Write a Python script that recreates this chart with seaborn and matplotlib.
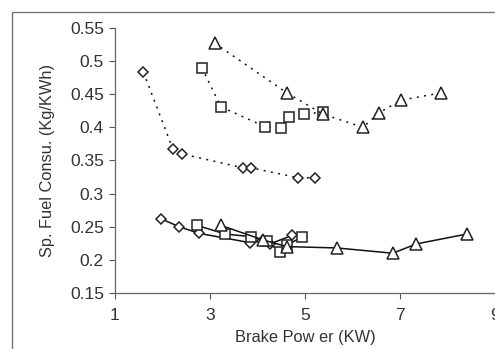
import matplotlib
matplotlib.use("Agg")
import matplotlib.pyplot as plt
import seaborn as sns
from matplotlib.patches import Rectangle

# upper (dotted) series
dia_hi_x = [1.6, 2.22, 2.41, 3.69, 3.86, 4.85, 5.21]
dia_hi_y = [0.483, 0.367, 0.360, 0.339, 0.339, 0.324, 0.324]
sq_hi_x = [2.83, 3.23, 4.16, 4.49, 4.66, 4.98, 5.38]
sq_hi_y = [0.490, 0.431, 0.401, 0.399, 0.416, 0.420, 0.423]
tri_hi_x = [3.10, 4.62, 5.38, 6.22, 6.56, 7.02, 7.86]
tri_hi_y = [0.527, 0.452, 0.420, 0.400, 0.422, 0.441, 0.452]

# lower (solid) series
dia_lo_x = [1.97, 2.35, 2.77, 3.84, 4.10, 4.26, 4.73]
dia_lo_y = [0.262, 0.250, 0.240, 0.226, 0.229, 0.224, 0.237]
sq_lo_x = [2.73, 3.32, 3.86, 4.20, 4.47, 4.62, 4.94]
sq_lo_y = [0.252, 0.239, 0.235, 0.228, 0.212, 0.222, 0.235]
tri_lo_x = [3.23, 4.12, 4.62, 5.67, 6.85, 7.34, 8.41]
tri_lo_y = [0.252, 0.230, 0.220, 0.218, 0.210, 0.224, 0.239]

x_ticks = [1, 3, 5, 7, 9]
y_ticks = [0.15, 0.2, 0.25, 0.3, 0.35, 0.4, 0.45, 0.5, 0.55]
y_tick_labels = ["0.15", "0.2", "0.25", "0.3", "0.35", "0.4", "0.45", "0.5", "0.55"]

sns.set_style("white")
plt.rcParams['font.family'] = ['Liberation Sans', 'DejaVu Sans']

fig = plt.figure(figsize=(4.95, 3.49), dpi=100)
ax = fig.add_axes([0.2323, 0.1605, 0.7677, 0.7593])

# chart area border (cropped on right and bottom)
fig.patches.append(Rectangle((12 / 495, -0.05), 1.2, (349 - 12) / 349 + 0.05,
                             transform=fig.transFigure, fill=False,
                             edgecolor="#777777", linewidth=1.0, zorder=0))

dotted = (0, (1.3, 3.5))
series = [
    (dia_hi_x, dia_hi_y, "D", dotted, 5.5),
    (sq_hi_x, sq_hi_y, "s", dotted, 7.5),
    (tri_hi_x, tri_hi_y, "^", dotted, 8.5),
    (dia_lo_x, dia_lo_y, "D", "-", 5.5),
    (sq_lo_x, sq_lo_y, "s", "-", 7.5),
    (tri_lo_x, tri_lo_y, "^", "-", 8.5),
]
for xs, ys, mk, ls, ms in series:
    sns.lineplot(x=xs, y=ys, ax=ax, sort=False, color="#111111", linewidth=1.1,
                 linestyle=ls, marker=mk, markersize=ms, markerfacecolor="white",
                 markeredgecolor="#222222", markeredgewidth=1.1)

ax.set_xlim(1, 9)
ax.set_ylim(0.15, 0.55)
ax.set_xticks(x_ticks)
ax.set_yticks(y_ticks)
ax.set_yticklabels(y_tick_labels)
ax.tick_params(axis="both", direction="out", length=4, width=0.8, colors="#555555",
               labelsize=12.5, labelcolor="#333333", left=True, bottom=True)
ax.tick_params(axis="x", pad=7)
ax.tick_params(axis="y", pad=4)
for s in ["top", "right"]:
    ax.spines[s].set_visible(False)
for s in ["left", "bottom"]:
    ax.spines[s].set_color("#666666")
    ax.spines[s].set_linewidth(0.9)

ax.set_xlabel("Brake Pow er (KW)", fontsize=11.8, color="#333333", labelpad=5)
ax.set_ylabel("Sp. Fuel Consu. (Kg/KWh)", fontsize=11.8, color="#333333", labelpad=11)

fig.savefig("out.png", dpi=100)
